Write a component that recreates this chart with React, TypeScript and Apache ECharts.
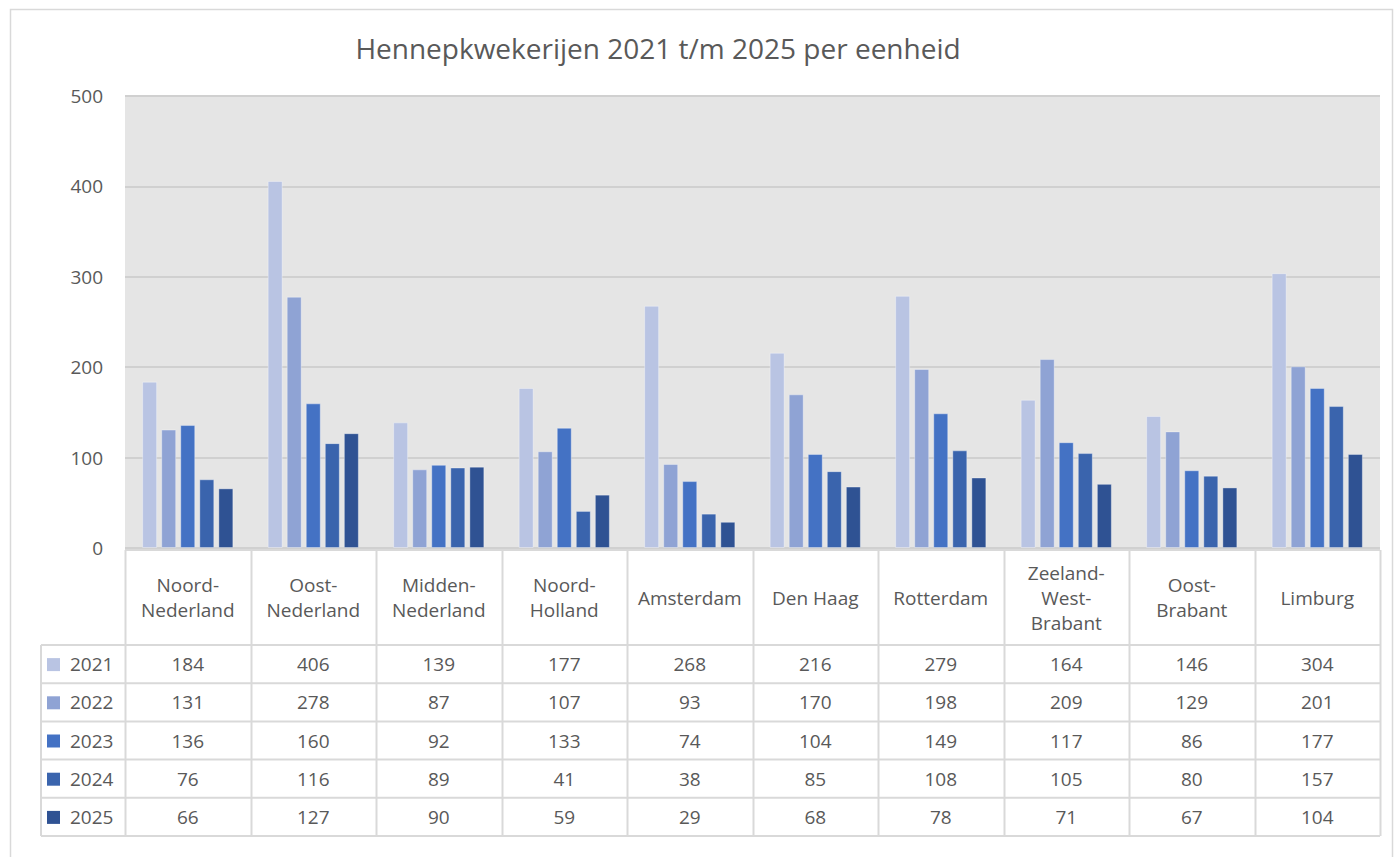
import React, { useEffect, useRef } from "react";
import * as echarts from "echarts";

const categories = [
  "Noord-\nNederland",
  "Oost-\nNederland",
  "Midden-\nNederland",
  "Noord-\nHolland",
  "Amsterdam",
  "Den Haag",
  "Rotterdam",
  "Zeeland-\nWest-\nBrabant",
  "Oost-\nBrabant",
  "Limburg",
];
const years = ["2021", "2022", "2023", "2024", "2025"];
const v2021 = [184, 406, 139, 177, 268, 216, 279, 164, 146, 304];
const v2022 = [131, 278, 87, 107, 93, 170, 198, 209, 129, 201];
const v2023 = [136, 160, 92, 133, 74, 104, 149, 117, 86, 177];
const v2024 = [76, 116, 89, 41, 38, 85, 108, 105, 80, 157];
const v2025 = [66, 127, 90, 59, 29, 68, 78, 71, 67, 104];
const seriesValues = [v2021, v2022, v2023, v2024, v2025];
const colors = ["#b9c4e3", "#8fa3d4", "#4472c4", "#3a64ad", "#2f5293"];

const W = 1396;
const H = 857;
const gridLeft = 125;
const gridRight = 1380;
const gridTop = 96;
const gridBottom = 548;
const headerBottom = 645;
const rowH = 38.2;
const legendLeft = 41;
const textColor = "#595959";
const lineColor = "#d9d9d9";
const font = "Open Sans, Lato, sans-serif";

export default function App() {
  const ref = useRef<HTMLDivElement>(null);
  useEffect(() => {
    if (!ref.current) return;
    const chart = echarts.init(ref.current, null, { renderer: "svg" });
    const n = categories.length;
    const cw = (gridRight - gridLeft) / n;
    const graphics: any[] = [];
    graphics.push({
      type: "rect",
      shape: { x: 10.5, y: 9.5, width: 1382, height: 870 },
      style: { fill: "none", stroke: "#d9d9d9", lineWidth: 1.5 },
      z: 0,
    });
    const tableBottom = headerBottom + rowH * years.length;
    for (let i = 0; i <= n; i++) {
      const x = Math.round(gridLeft + i * cw) + 0.5;
      graphics.push({
        type: "line",
        shape: { x1: x, y1: gridBottom + 2, x2: x, y2: tableBottom },
        style: { stroke: lineColor, lineWidth: 2 },
      });
    }
    graphics.push({
      type: "line",
      shape: { x1: legendLeft, y1: headerBottom, x2: legendLeft, y2: tableBottom },
      style: { stroke: lineColor, lineWidth: 2 },
    });
    graphics.push({
      type: "line",
      shape: { x1: gridLeft, y1: gridBottom + 2, x2: gridRight, y2: gridBottom + 2 },
      style: { stroke: lineColor, lineWidth: 2 },
    });
    for (let r = 0; r <= years.length; r++) {
      const y = headerBottom + r * rowH;
      graphics.push({
        type: "line",
        shape: { x1: legendLeft, y1: y, x2: gridRight, y2: y },
        style: { stroke: lineColor, lineWidth: 2 },
      });
    }
    categories.forEach((c, i) => {
      graphics.push({
        type: "text",
        x: gridLeft + (i + 0.5) * cw,
        y: (gridBottom + headerBottom) / 2 + 1,
        style: {
          text: c,
          fill: textColor,
          font: `19px ${font}`,
          align: "center",
          verticalAlign: "middle",
          lineHeight: 25,
        },
      });
    });
    years.forEach((yr, r) => {
      const cy = headerBottom + (r + 0.5) * rowH;
      graphics.push({
        type: "rect",
        shape: { x: 47, y: cy - 6, width: 13, height: 13 },
        style: { fill: colors[r] },
      });
      graphics.push({
        type: "text",
        x: 70,
        y: cy,
        style: { text: yr, fill: textColor, font: `19px ${font}`, align: "left", verticalAlign: "middle" },
      });
      seriesValues[r].forEach((v, i) => {
        graphics.push({
          type: "text",
          x: gridLeft + (i + 0.5) * cw,
          y: cy,
          style: { text: String(v), fill: textColor, font: `19px ${font}`, align: "center", verticalAlign: "middle" },
        });
      });
    });

    chart.setOption({
      animation: false,
      backgroundColor: "#ffffff",
      title: {
        text: "Hennepkwekerijen 2021 t/m 2025 per eenheid",
        left: 653,
        top: 29,
        textAlign: "center",
        textStyle: { color: textColor, fontSize: 28, fontWeight: "normal", fontFamily: font },
      },
      grid: {
        left: gridLeft,
        right: W - gridRight,
        top: gridTop,
        bottom: H - gridBottom,
        show: true,
        backgroundColor: "#e5e5e5",
        borderWidth: 0,
      },
      xAxis: {
        type: "category",
        data: categories,
        axisLine: { show: false },
        axisTick: { show: false },
        axisLabel: { show: false },
        splitLine: { show: false },
      },
      yAxis: {
        type: "value",
        min: 0,
        max: 500,
        interval: 100,
        axisLine: { show: false },
        axisTick: { show: false },
        axisLabel: { color: textColor, fontSize: 19, fontFamily: font, margin: 22 },
        splitLine: { lineStyle: { color: "#d0d0d0", width: 2 } },
      },
      series: years.map((yr, r) => ({
        name: yr,
        type: "bar",
        data: seriesValues[r],
        barWidth: 15,
        barGap: "27%",
        itemStyle: { color: colors[r], borderColor: "rgba(255,255,255,0.35)", borderWidth: 1 },
      })),
      graphic: graphics,
    });
    return () => chart.dispose();
  }, []);
  return (
    <div
      ref={ref}
      style={{ position: "fixed", left: 0, top: 0, width: W, height: H, background: "#fff" }}
    />
  );
}
